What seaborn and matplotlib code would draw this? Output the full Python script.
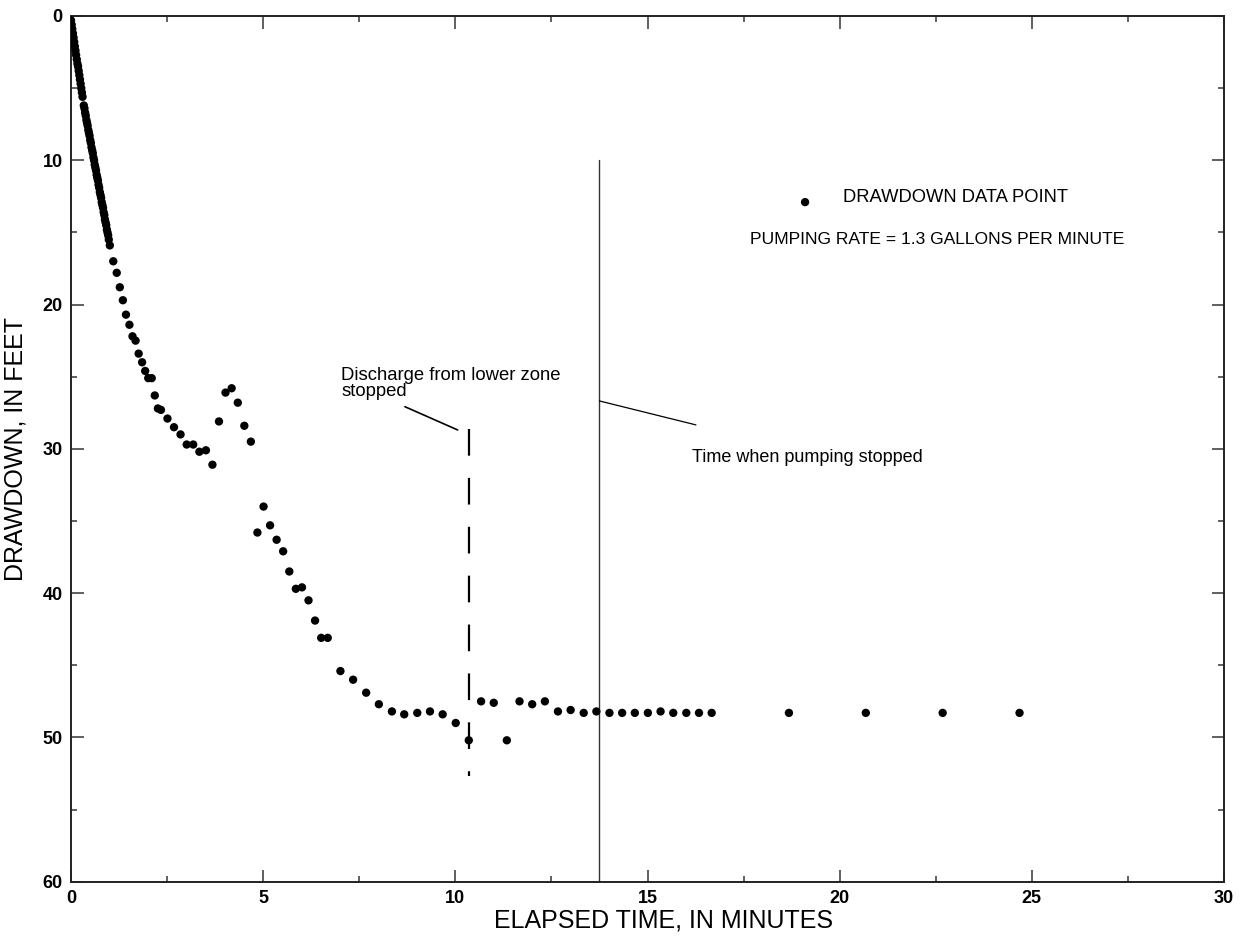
import matplotlib
matplotlib.use("Agg")
import matplotlib.pyplot as plt
import seaborn as sns
import pandas as pd

# ---- data (elapsed time in minutes, drawdown in feet) ----
time_early = [0.000, 0.017, 0.033, 0.050, 0.067, 0.083, 0.100, 0.117, 0.133, 0.150,
              0.167, 0.183, 0.200, 0.217, 0.233, 0.250, 0.267, 0.283, 0.300,
              0.333, 0.350, 0.367, 0.383, 0.400, 0.417, 0.433, 0.450, 0.467, 0.483,
              0.500, 0.517, 0.533, 0.550, 0.567, 0.583, 0.600, 0.617, 0.633, 0.650,
              0.667, 0.683, 0.700, 0.717, 0.733, 0.750, 0.767, 0.783, 0.800, 0.817,
              0.833, 0.850, 0.867, 0.883, 0.900, 0.917, 0.933, 0.950, 0.967, 0.983, 1.010]
drawdown_early = [0.3, 0.6, 0.9, 1.2, 1.5, 1.8, 2.1, 2.4, 2.7, 3.0,
                  3.3, 3.5, 3.8, 4.1, 4.4, 4.7, 5.0, 5.3, 5.6,
                  6.2, 6.4, 6.7, 6.9, 7.2, 7.4, 7.6, 7.9, 8.1, 8.3,
                  8.6, 8.8, 9.1, 9.3, 9.5, 9.8, 10.0, 10.3, 10.5, 10.7,
                  11.0, 11.2, 11.4, 11.7, 11.9, 12.2, 12.4, 12.6, 12.9, 13.1,
                  13.3, 13.6, 13.8, 14.1, 14.3, 14.5, 14.8, 15.0, 15.2, 15.5, 15.9]

time_mid = [1.10, 1.19, 1.27, 1.35, 1.43, 1.52, 1.60, 1.68, 1.76, 1.85, 1.93, 2.01,
            2.10, 2.18, 2.26, 2.34, 2.51, 2.68, 2.85, 3.01, 3.18, 3.34, 3.51, 3.68,
            3.85, 4.02, 4.18, 4.34, 4.51, 4.68,
            4.85, 5.01, 5.18, 5.35, 5.52, 5.68, 5.85, 6.01, 6.18, 6.35, 6.51, 6.68]
drawdown_mid = [17.0, 17.8, 18.8, 19.7, 20.7, 21.4, 22.2, 22.5, 23.4, 24.0, 24.6, 25.1,
                25.1, 26.3, 27.2, 27.3, 27.9, 28.5, 29.0, 29.7, 29.7, 30.2, 30.1, 31.1,
                28.1, 26.1, 25.8, 26.8, 28.4, 29.5,
                35.8, 34.0, 35.3, 36.3, 37.1, 38.5, 39.7, 39.6, 40.5, 41.9, 43.1, 43.1]

time_late = [7.01, 7.34, 7.68, 8.01, 8.35, 8.67, 9.01, 9.34, 9.67, 10.01, 10.35,
             10.67, 11.00, 11.34, 11.67, 12.00, 12.33, 12.67, 13.00, 13.34, 13.67,
             14.01, 14.34, 14.67, 15.01, 15.34, 15.67, 16.01, 16.34, 16.67,
             18.68, 20.68, 22.68, 24.68]
drawdown_late = [45.4, 46.0, 46.9, 47.7, 48.2, 48.4, 48.3, 48.2, 48.4, 49.0, 50.2,
                 47.5, 47.6, 50.2, 47.5, 47.7, 47.5, 48.2, 48.1, 48.3, 48.2,
                 48.3, 48.3, 48.3, 48.3, 48.2, 48.3, 48.3, 48.3, 48.3,
                 48.3, 48.3, 48.3, 48.3]

discharge_stop_time = 10.36
pump_stop_time = 13.75

x_ticks = [0, 5, 10, 15, 20, 25, 30]
y_ticks = [0, 10, 20, 30, 40, 50, 60]

df = pd.DataFrame({
    "time": time_early + time_mid + time_late,
    "drawdown": drawdown_early + drawdown_mid + drawdown_late,
})

sns.set_theme(style="white")
plt.rcParams["font.family"] = ["Liberation Sans", "DejaVu Sans"]

fig = plt.figure(figsize=(12.41, 9.42), dpi=100)
ax = fig.add_axes([71 / 1241, 1 - 881.7 / 942, (1224 - 71) / 1241, (881.7 - 16) / 942])

sns.scatterplot(data=df, x="time", y="drawdown", ax=ax, s=36, color="black",
                edgecolor="none", linewidth=0, zorder=3)

ax.set_xlim(0, 30)
ax.set_ylim(60, 0)
ax.set_xticks(x_ticks)
ax.set_yticks(y_ticks)
ax.set_xticks([2.5, 7.5, 12.5, 17.5, 22.5, 27.5], minor=True)
ax.set_yticks([5, 15, 25, 35, 45, 55], minor=True)
ax.set_xticklabels([str(v) for v in x_ticks], fontsize=13, fontweight="bold")
ax.set_yticklabels([str(v) for v in y_ticks], fontsize=13, fontweight="bold")
ax.tick_params(which="both", direction="in", top=True, right=True, bottom=True, left=True,
               color="#444444", width=1.2, labelcolor="black")
ax.tick_params(which="major", length=9)
ax.tick_params(which="minor", length=4.5)
ax.tick_params(axis="x", which="major", pad=6)
ax.tick_params(axis="y", which="major", pad=6)
for sp in ax.spines.values():
    sp.set_visible(True)
    sp.set_color("#222222")
    sp.set_linewidth(1.4)

ax.set_xlabel("ELAPSED TIME, IN MINUTES", fontsize=18, color="black")
ax.set_ylabel("DRAWDOWN, IN FEET", fontsize=18, color="black")
ax.xaxis.set_label_coords(0.514, -0.031)
ax.yaxis.set_label_coords(-0.038, 0.5)

# event lines
ax.plot([discharge_stop_time, discharge_stop_time], [28.6, 52.7], color="black",
        lw=1.6, dashes=(12, 10), zorder=2)
ax.plot([pump_stop_time, pump_stop_time], [10, 60], color="#333333", lw=1.0, zorder=2)

# leaders
ax.plot([8.69, 10.06], [27.08, 28.69], color="black", lw=1.2)
ax.plot([pump_stop_time, 16.26], [26.68, 28.34], color="black", lw=0.9)

ax.text(7.03, 26.6, "Discharge from lower zone\nstopped", fontsize=13.3,
        va="bottom", ha="left", linespacing=0.9, color="black")
ax.text(16.16, 30.6, "Time when pumping stopped", fontsize=13, va="center",
        ha="left", color="black")

# legend-like key
ax.scatter([19.10], [12.9], s=36, color="black", edgecolor="none")
ax.text(20.09, 12.6, "DRAWDOWN DATA POINT", fontsize=13.2, va="center", ha="left",
        color="black")
ax.text(17.67, 15.5, "PUMPING RATE = 1.3 GALLONS PER MINUTE", fontsize=12.6,
        va="center", ha="left", color="black")

fig.savefig("out.png", dpi=100)
